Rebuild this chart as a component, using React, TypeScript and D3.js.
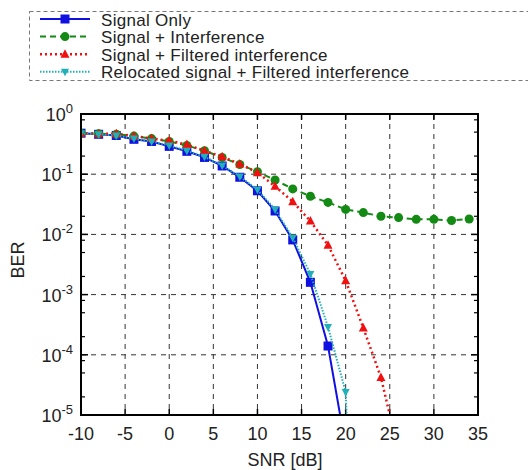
import React from 'react';
import * as d3 from 'd3';

// SNR grid of the simulation (dB)
const snr = [-10, -8, -6, -4, -2, 0, 2, 4, 6, 8, 10, 12, 14, 16, 18, 20, 22, 24, 26, 28, 30, 32, 34, 36];

// BER per curve
const signalOnly = [0.48, 0.46, 0.44, 0.38, 0.35, 0.29, 0.24, 0.19, 0.137, 0.089, 0.053, 0.0245, 0.0081, 0.0016, 1.4e-4, 3e-6];
const signalInterf = [0.48, 0.47, 0.46, 0.43, 0.39, 0.35, 0.30, 0.245, 0.19, 0.145, 0.11, 0.080, 0.057, 0.043, 0.034, 0.026, 0.023, 0.020, 0.019, 0.0178, 0.0178, 0.017, 0.018, 0.0185];
const signalFiltered = [0.48, 0.47, 0.47, 0.43, 0.39, 0.36, 0.31, 0.245, 0.195, 0.148, 0.106, 0.063, 0.035, 0.0167, 0.0066, 0.0017, 2.8e-4, 4.2e-5, 2.4e-6];
const relocated = [0.48, 0.46, 0.44, 0.39, 0.35, 0.30, 0.245, 0.195, 0.14, 0.092, 0.055, 0.026, 0.0088, 0.0022, 2.9e-4, 2.4e-5, 1e-12];

const xTicks = [-10, -5, 0, 5, 10, 15, 20, 25, 30, 35];
const yExps = [0, -1, -2, -3, -4, -5];
const minorMult = [2, 5, 8];

const legendNames = [
  'Signal Only',
  'Signal + Interference',
  'Signal + Filtered interference',
  'Relocated signal + Filtered interference',
];

const W = 528, H = 470;
const left = 81, right = 478, top = 114, bottom = 415;

const series = [
  { name: legendNames[0], data: signalOnly, color: '#1010e0', dash: null, width: 2, marker: 'square' },
  { name: legendNames[1], data: signalInterf, color: '#138a13', dash: '6,4', width: 2, marker: 'circle' },
  { name: legendNames[2], data: signalFiltered, color: '#f01010', dash: '2,3', width: 2.5, marker: 'up' },
  { name: legendNames[3], data: relocated, color: '#22b0b8', dash: '1.5,1.5', width: 2, marker: 'down' },
];

function Marker({ type, x, y, color }: { type: string; x: number; y: number; color: string }) {
  if (type === 'square') return <rect x={x - 4.5} y={y - 4.5} width={9} height={9} fill={color} />;
  if (type === 'circle') return <circle cx={x} cy={y} r={4.5} fill={color} />;
  if (type === 'up') return <path d={`M${x},${y - 5}L${x + 4.5},${y + 3.5}L${x - 4.5},${y + 3.5}Z`} fill={color} />;
  return <path d={`M${x},${y + 4.5}L${x + 4},${y - 3}L${x - 4},${y - 3}Z`} fill={color} />;
}

export default function App() {
  const x = d3.scaleLinear().domain([-10, 35]).range([left, right]);
  const y = d3.scaleLog().domain([1e-5, 1]).range([bottom, top]);
  const line = d3.line<[number, number]>().x(d => x(d[0])).y(d => y(d[1]));

  const font = 'Liberation Sans, Arial, sans-serif';
  const fs = 18;
  const minors: number[] = [];
  yExps.forEach(e => { if (e > -5) minorMult.forEach(m => minors.push(m * Math.pow(10, e - 1))); });

  return (
    <svg width={W} height={H} style={{ position: 'absolute', left: 0, top: 0, background: '#fff' }} fontFamily={font}>
      <defs>
        <clipPath id="plot"><rect x={left} y={top} width={right - left} height={bottom - top} /></clipPath>
      </defs>

      {/* legend */}
      <rect x={29.5} y={11.5} width={520} height={69} fill="none" stroke="#777" strokeDasharray="4,3" />
      {series.map((s, i) => {
        const ly = 19 + i * 17.6;
        return (
          <g key={s.name}>
            <line x1={40} x2={90} y1={ly} y2={ly} stroke={s.color} strokeWidth={s.width} strokeDasharray={s.dash || undefined} />
            <Marker type={s.marker} x={65} y={ly} color={s.color} />
            <text x={101} y={ly + 6.5} fontSize={17} letterSpacing={0.3} fill="#222">{s.name}</text>
          </g>
        );
      })}

      {/* grid */}
      {xTicks.slice(1, -1).map(t => (
        <line key={'gx' + t} x1={x(t)} x2={x(t)} y1={top} y2={bottom} stroke="#333" strokeWidth={1} strokeDasharray="5,5" />
      ))}
      {yExps.slice(1, -1).map(e => (
        <line key={'gy' + e} x1={left} x2={right} y1={y(Math.pow(10, e))} y2={y(Math.pow(10, e))} stroke="#333" strokeWidth={1} strokeDasharray="5,5" />
      ))}

      {/* ticks */}
      {xTicks.map(t => (
        <g key={'tx' + t}>
          <line x1={x(t)} x2={x(t)} y1={bottom} y2={bottom - 6} stroke="#000" strokeWidth={1.5} />
          <line x1={x(t)} x2={x(t)} y1={top} y2={top + 6} stroke="#000" strokeWidth={1.5} />
          <text x={x(t)} y={bottom + 25} fontSize={fs} textAnchor="middle" fill="#222">{t}</text>
        </g>
      ))}
      {yExps.map(e => (
        <g key={'ty' + e}>
          <line x1={left} x2={left + 7} y1={y(Math.pow(10, e))} y2={y(Math.pow(10, e))} stroke="#000" strokeWidth={1.5} />
          <line x1={right} x2={right - 7} y1={y(Math.pow(10, e))} y2={y(Math.pow(10, e))} stroke="#000" strokeWidth={1.5} />
          <text x={left - 8} y={y(Math.pow(10, e)) + 7} fontSize={fs} textAnchor="end" fill="#222">
            10<tspan dy={-8} fontSize={13}>{e}</tspan>
          </text>
        </g>
      ))}
      {minors.map(v => (
        <g key={'my' + v}>
          <line x1={left} x2={left + 4} y1={y(v)} y2={y(v)} stroke="#000" strokeWidth={1.2} />
          <line x1={right} x2={right - 4} y1={y(v)} y2={y(v)} stroke="#000" strokeWidth={1.2} />
        </g>
      ))}

      {/* curves */}
      <g clipPath="url(#plot)">
        {series.map(s => {
          const pts = s.data.map((v, i) => [snr[i], v] as [number, number]);
          return (
            <g key={'c' + s.name}>
              <path d={line(pts) || ''} fill="none" stroke={s.color} strokeWidth={s.width} strokeDasharray={s.dash || undefined} />
              {pts.filter(p => p[1] >= 1e-5 && p[0] <= 35).map(p => (
                <Marker key={p[0]} type={s.marker} x={x(p[0])} y={y(p[1])} color={s.color} />
              ))}
            </g>
          );
        })}
      </g>

      {/* frame */}
      <rect x={left} y={top} width={right - left} height={bottom - top} fill="none" stroke="#000" strokeWidth={2} />

      <text x={285} y={466} fontSize={fs} textAnchor="middle" fill="#222">SNR [dB]</text>
      <text transform={`translate(24,260) rotate(-90)`} fontSize={fs} textAnchor="middle" fill="#222">BER</text>
    </svg>
  );
}
